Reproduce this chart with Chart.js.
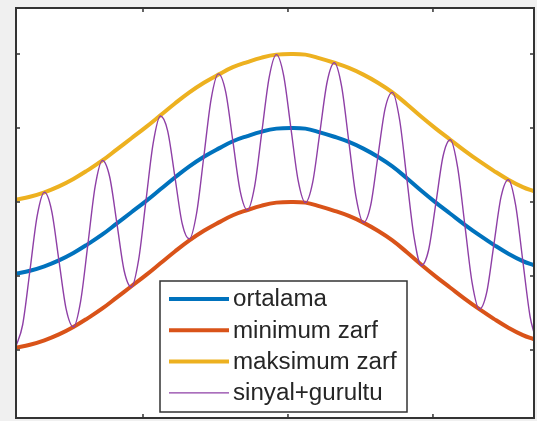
<!DOCTYPE html>
<html>
<head>
<meta charset="utf-8">
<script src="https://cdn.jsdelivr.net/npm/chart.js@4.4.0/dist/chart.umd.min.js"></script>
<style>
  html, body { margin: 0; padding: 0; background: #f0f0f0; }
  canvas { display: block; }
</style>
</head>
<body>
<canvas id="myChart" width="537" height="421"></canvas>
<script>
'use strict';

// time axis for the noisy signal
var tSignal = [-1.88, -1.83, -1.78, -1.73, -1.68, -1.63, -1.58, -1.53, -1.48, -1.43, -1.38, -1.33,
  -1.28, -1.23, -1.18, -1.13, -1.08, -1.03, -0.98, -0.93, -0.88, -0.83, -0.78, -0.73,
  -0.68, -0.63, -0.58, -0.53, -0.48, -0.43, -0.38, -0.33, -0.28, -0.23, -0.18, -0.13,
  -0.08, -0.03, 0.02, 0.07, 0.12, 0.17, 0.22, 0.27, 0.32, 0.37, 0.42, 0.47,
  0.52, 0.57, 0.62, 0.67, 0.72, 0.77, 0.82, 0.87, 0.92, 0.97, 1.02, 1.07,
  1.12, 1.17, 1.22, 1.27, 1.32, 1.37, 1.42, 1.47, 1.52, 1.57, 1.62, 1.67, 1.70];
var sinyal = [0.03, 0.34, 1.07, 1.81, 2.13, 1.88, 1.21, 0.55,
  0.31, 0.66, 1.43, 2.21, 2.56, 2.34, 1.71, 1.07,
  0.85, 1.22, 2.01, 2.79, 3.16, 2.96, 2.34, 1.71,
  1.50, 1.85, 2.62, 3.39, 3.73, 3.49, 2.82, 2.15,
  1.89, 2.21, 2.95, 3.68, 3.99, 3.71, 3.00, 2.29,
  1.99, 2.26, 2.94, 3.62, 3.88, 3.56, 2.81, 2.06,
  1.72, 1.95, 2.61, 3.26, 3.48, 3.11, 2.31, 1.52,
  1.14, 1.35, 1.98, 2.62, 2.84, 2.47, 1.69, 0.91,
  0.55, 0.77, 1.42, 2.07, 2.30, 1.96, 1.20, 0.45, 0.21];

// time axis for the envelopes
var tEnv = [-1.88, -1.78, -1.68, -1.58, -1.48, -1.38, -1.28, -1.18, -1.08, -0.98, -0.88, -0.78,
  -0.68, -0.58, -0.48, -0.38, -0.28, -0.18, -0.08, 0.02, 0.12, 0.22, 0.32, 0.42,
  0.52, 0.62, 0.72, 0.82, 0.92, 1.02, 1.12, 1.22, 1.32, 1.42, 1.52, 1.62, 1.70];
var ortalama = [1.03, 1.07, 1.13, 1.21, 1.31, 1.43, 1.56, 1.71, 1.86, 2.01, 2.17, 2.33,
  2.48, 2.61, 2.72, 2.82, 2.89, 2.95, 2.99, 3.00, 2.99, 2.94, 2.88, 2.81,
  2.72, 2.61, 2.48, 2.32, 2.15, 1.99, 1.84, 1.69, 1.55, 1.42, 1.30, 1.20, 1.14];
var minZarf = [0.03, 0.07, 0.13, 0.21, 0.31, 0.43, 0.56, 0.71, 0.86, 1.01, 1.17, 1.33,
  1.48, 1.61, 1.72, 1.82, 1.89, 1.95, 1.99, 2.00, 1.99, 1.94, 1.88, 1.81,
  1.72, 1.61, 1.48, 1.32, 1.15, 0.99, 0.84, 0.69, 0.55, 0.42, 0.30, 0.20, 0.14];
var maxZarf = [2.03, 2.07, 2.13, 2.21, 2.31, 2.43, 2.56, 2.71, 2.86, 3.01, 3.17, 3.33,
  3.48, 3.61, 3.72, 3.82, 3.89, 3.95, 3.99, 4.00, 3.99, 3.94, 3.88, 3.81,
  3.72, 3.61, 3.48, 3.32, 3.15, 2.99, 2.84, 2.69, 2.55, 2.42, 2.30, 2.20, 2.14];

var seriesNames = ['ortalama', 'minimum zarf', 'maksimum zarf', 'sinyal+gurultu'];
var xTicks = [-1, 0, 1];
var yTicks = [0, 1, 2, 3, 4];

function pts(xs, ys) {
  return xs.map(function(x, i) { return {x: x, y: ys[i]}; });
}

// matlab style box, inward ticks and legend inside the axes
var matlabAxes = {
  id: 'matlabAxes',
  beforeDraw: function(chart) {
    var ctx = chart.ctx, a = chart.chartArea;
    ctx.save();
    ctx.fillStyle = '#f0f0f0';
    ctx.fillRect(0, 0, chart.width, chart.height);
    ctx.fillStyle = '#ffffff';
    ctx.fillRect(a.left, a.top, a.right - a.left, a.bottom - a.top);
    ctx.restore();
  },
  afterDatasetsDraw: function(chart) {
    var ctx = chart.ctx, a = chart.chartArea;
    var xs = chart.scales.x, ys = chart.scales.y;
    ctx.save();
    ctx.strokeStyle = '#333333';
    ctx.lineWidth = 1.5;
    ctx.beginPath();
    xTicks.forEach(function(v) {
      var px = xs.getPixelForValue(v);
      ctx.moveTo(px, a.bottom); ctx.lineTo(px, a.bottom - 4);
      ctx.moveTo(px, a.top); ctx.lineTo(px, a.top + 4);
    });
    yTicks.forEach(function(v) {
      var py = ys.getPixelForValue(v);
      ctx.moveTo(a.left, py); ctx.lineTo(a.left + 4, py);
      ctx.moveTo(a.right, py); ctx.lineTo(a.right - 4, py);
    });
    ctx.stroke();
    ctx.lineWidth = 2;
    ctx.strokeRect(a.left, a.top, a.right - a.left, a.bottom - a.top);
    ctx.restore();
  },
  afterDraw: function(chart) {
    var ctx = chart.ctx;
    var bx = 160, by = 281, bw = 247, bh = 131;
    ctx.save();
    ctx.fillStyle = '#ffffff';
    ctx.fillRect(bx, by, bw, bh);
    ctx.strokeStyle = '#333333';
    ctx.lineWidth = 1.5;
    ctx.strokeRect(bx, by, bw, bh);
    ctx.font = '23px "Liberation Sans", Arial, sans-serif';
    ctx.textBaseline = 'middle';
    chart.data.datasets.forEach(function(ds, i) {
      var y = by + 18 + i * 31.3;
      ctx.strokeStyle = ds.borderColor;
      ctx.lineWidth = ds.borderWidth;
      ctx.beginPath();
      ctx.moveTo(bx + 9, y);
      ctx.lineTo(bx + 69, y);
      ctx.stroke();
      ctx.fillStyle = '#262626';
      ctx.save();
      ctx.translate(bx + 73, y + 1);
      ctx.scale(1.05, 1);
      ctx.fillText(ds.label, 0, 0);
      ctx.restore();
    });
    ctx.restore();
  }
};

var ctx = document.getElementById('myChart');
var myChart = new Chart(ctx, {
  type: 'line',
  data: {
    datasets: [
      {label: seriesNames[0], data: pts(tEnv, ortalama), borderColor: '#0072BD', borderWidth: 4, tension: 0.4, order: 2},
      {label: seriesNames[1], data: pts(tEnv, minZarf), borderColor: '#D95319', borderWidth: 4, tension: 0.4, order: 2},
      {label: seriesNames[2], data: pts(tEnv, maxZarf), borderColor: '#EDB120', borderWidth: 4, tension: 0.4, order: 2},
      {label: seriesNames[3], data: pts(tSignal, sinyal), borderColor: '#8E3FA6', borderWidth: 1.4,
        cubicInterpolationMode: 'monotone', order: 1}
    ]
  },
  options: {
    responsive: false,
    animation: false,
    devicePixelRatio: 1,
    layout: {padding: {left: 16, top: 8, right: 3, bottom: 3}},
    elements: {
      point: {radius: 0},
      line: {fill: false}
    },
    plugins: {legend: {display: false}, tooltip: {enabled: false}},
    scales: {
      x: {type: 'linear', min: -1.876, max: 1.697, display: false},
      y: {type: 'linear', min: -0.92, max: 4.62, display: false}
    }
  },
  plugins: [matlabAxes]
});
</script>
</body>
</html>
